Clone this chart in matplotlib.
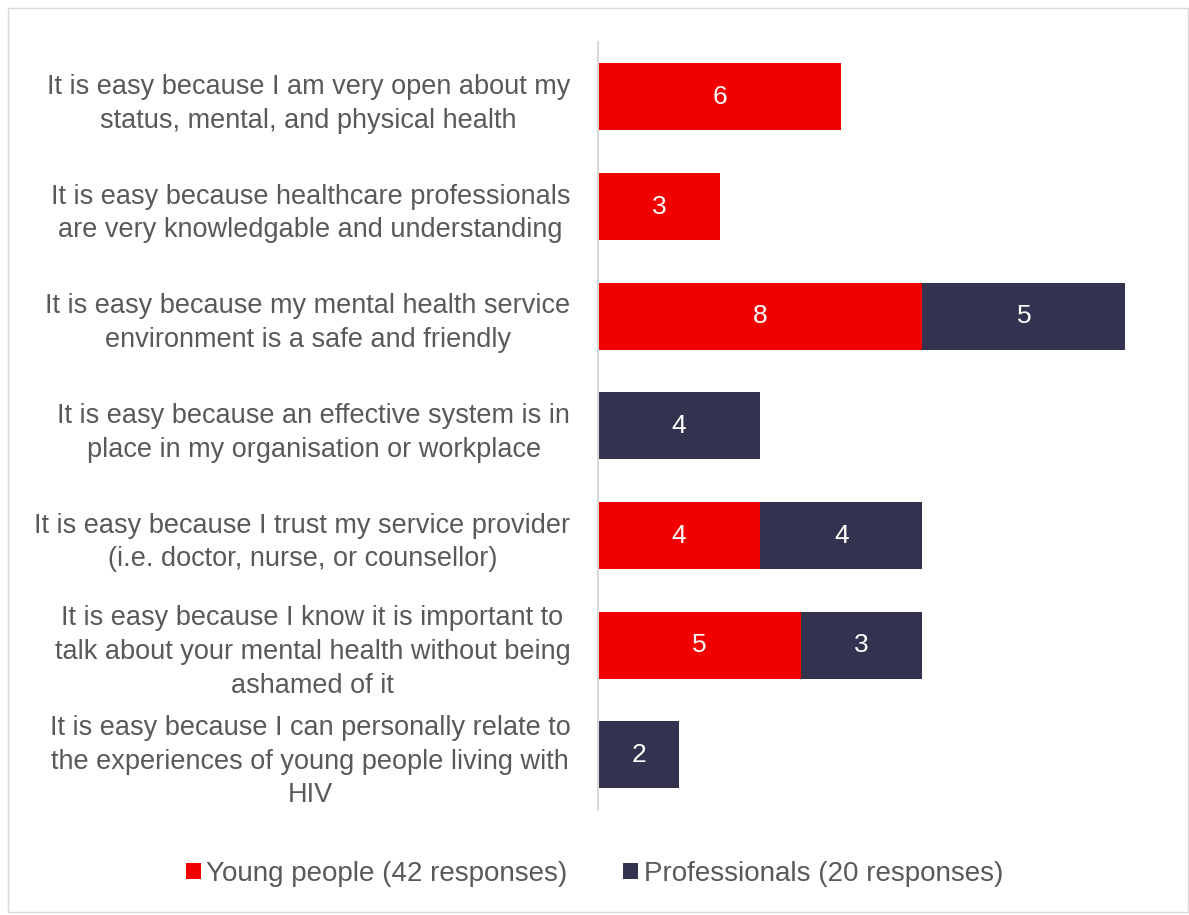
import matplotlib.pyplot as plt
from matplotlib.patches import Rectangle

# Reasons why talking about mental health is easy
categories = [
    "It is easy because I am very open about my\nstatus, mental, and physical health",
    "It is easy because healthcare professionals\nare very knowledgable and understanding",
    "It is easy because my mental health service\nenvironment is a safe and friendly",
    "It is easy because an effective system is in\nplace in my organisation or workplace",
    "It is easy because I trust my service provider\n(i.e. doctor, nurse, or counsellor)",
    "It is easy because I know it is important to\ntalk about your mental health without being\nashamed of it",
    "It is easy because I can personally relate to\nthe experiences of young people living with\nHIV",
]
young = [6, 3, 8, 0, 4, 5, 0]
professionals = [0, 0, 5, 4, 4, 3, 2]
series_names = ["Young people (42 responses)", "Professionals (20 responses)"]

RED = "#F20000"
NAVY = "#33334F"
GREY_TXT = "#595959"

plt.rcParams['font.family'] = ['Liberation Sans', 'DejaVu Sans']

fig = plt.figure(figsize=(11.89, 9.15), dpi=100)
ax = fig.add_axes([0.503, 0.115, 0.457, 0.839])

y = list(range(len(categories)))
h = 0.61
b1 = ax.barh(y, young, height=h, color=RED, label=series_names[0])
b2 = ax.barh(y, professionals, height=h, left=young, color=NAVY,
             label=series_names[1])

for bars, vals in ((b1, young), (b2, professionals)):
    for bar, v in zip(bars, vals):
        if v == 0:
            continue
        cx = bar.get_x() + bar.get_width() / 2
        cy = bar.get_y() + bar.get_height() / 2
        ax.text(cx, cy, str(v), ha='center', va='center', color='white',
                fontsize=19)

ax.set_xlim(0, 13.4)
ax.set_ylim(len(categories) - 0.5, -0.5)
ax.set_yticks(y)
ax.set_yticklabels(categories, multialignment='center', fontsize=19.5,
                   color=GREY_TXT, linespacing=1.38)
ax.tick_params(axis='y', length=0, pad=20)
ax.set_xticks([])
for s in ('top', 'right', 'bottom'):
    ax.spines[s].set_visible(False)
ax.spines['left'].set_color('#D9D9D9')
ax.spines['left'].set_linewidth(1.5)

leg = fig.legend(handles=[b1, b2], loc='center', bbox_to_anchor=(0.5, 0.045),
                 ncol=2, frameon=False, fontsize=20, handlelength=0.55,
                 handleheight=0.55, handletextpad=0.2, columnspacing=2.0)
for t in leg.get_texts():
    t.set_color(GREY_TXT)

# thin frame round the whole chart
fig.patches.append(Rectangle((8 / 1189, 3 / 915), 1180 / 1189, 904 / 915,
                             transform=fig.transFigure, fill=False,
                             edgecolor='#D9D9D9', linewidth=1))

fig.savefig("out.png", dpi=100)
